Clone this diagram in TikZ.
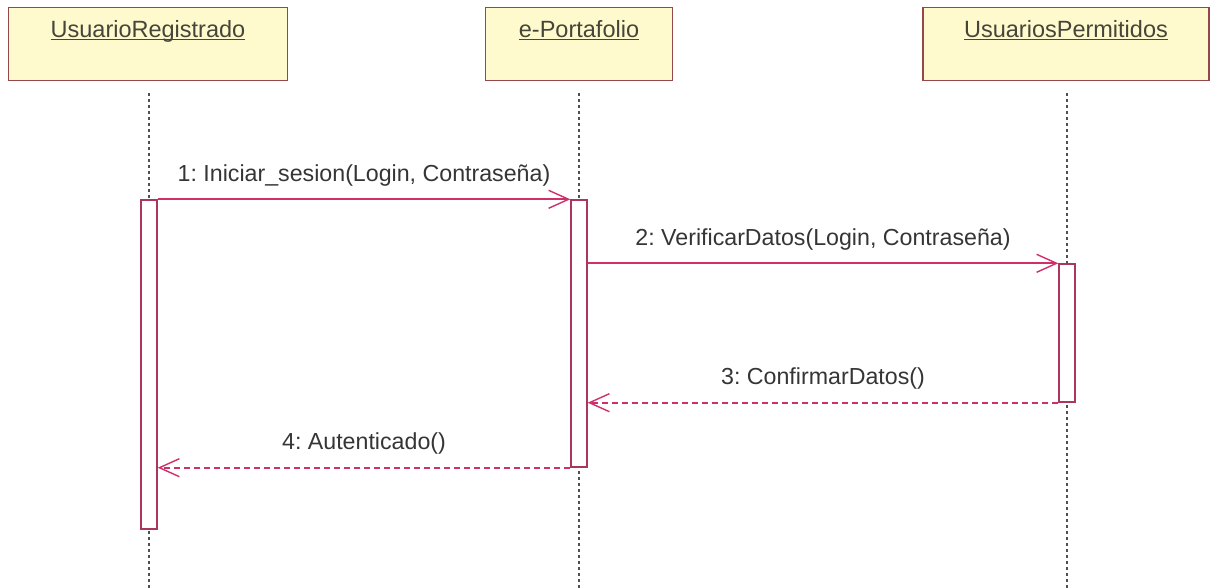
\documentclass[tikz,border=0pt]{standalone}
\usepackage{fontspec}
\setmainfont{Liberation Sans}
\usetikzlibrary{arrows.meta}
\frenchspacing
\definecolor{boxfill}{HTML}{FFFACD}
\definecolor{boxline}{HTML}{94484C}
\definecolor{hdrtext}{HTML}{45453A}
\definecolor{msgline}{HTML}{D0306A}
\definecolor{barline}{HTML}{A8365E}
\definecolor{lbltext}{HTML}{353535}
\definecolor{lifecol}{HTML}{505050}
\newcommand\ulinetext[1]{\setbox0=\hbox{#1}\rlap{\rule[-3pt]{\wd0}{1.1pt}}\box0}
\begin{document}
\begin{tikzpicture}[x=1pt,y=-1pt,
  actorbox/.style={draw=boxline, line width=1.3pt, fill=boxfill, rectangle,
    minimum height=73pt, inner sep=0pt, text=hdrtext,
    font=\fontsize{23.5}{28}\selectfont, text height=17pt, text depth=30pt},
  lifeline/.style={draw=lifecol, line width=1.3pt, dash pattern=on 3pt off 3pt},
  actbar/.style={draw=barline, line width=1.4pt, fill=white, rectangle,
    minimum width=16pt, inner sep=0pt},
  msgcall/.style={draw=msgline, line width=2pt,
    -{Straight Barb[length=20pt,width=18pt,line width=1.4pt]}},
  msgret/.style={draw=msgline, line width=1.8pt, dash pattern=on 6pt off 4pt,
    -{Straight Barb[length=20pt,width=18pt,line width=1.4pt]}},
  msglbl/.style={midway, anchor=base, yshift=18pt, text=lbltext,
    font=\fontsize{23.2}{28}\selectfont, inner sep=0pt}]
\useasboundingbox (0,0) rectangle (1210,588);

% actors
\node[actorbox, minimum width=279pt] (ur) at (148,44) {\ulinetext{UsuarioRegistrado}};
\node[actorbox, minimum width=187pt] (ep) at (579,44) {\ulinetext{e-Portafolio}};
\node[actorbox, minimum width=286pt] (up) at (1066,44) {\ulinetext{UsuariosPermitidos}};

% lifeline end points
\coordinate (urtop) at (149,93);
\coordinate (urend) at (149,588);
\coordinate (eptop) at (579,93);
\coordinate (epend) at (579,588);
\coordinate (uptop) at (1067,93);
\coordinate (upend) at (1067,588);
\draw[lifeline] (urtop) -- (urend);
\draw[lifeline] (eptop) -- (epend);
\draw[lifeline] (uptop) -- (upend);

% activation bars
\node[actbar, minimum height=329pt] (b1) at (149,364.5) {};
\node[actbar, minimum height=267pt] (b2) at (579,333.5) {};
\node[actbar, minimum height=138pt] (b3) at (1067,333) {};

% messages
\draw[msgcall] (b1.north east) -- (b2.north west)
  node[msglbl] (m1) {1: Iniciar\_sesion(Login, Contraseña)};
\draw[msgcall] (b2.east |- b3.north) -- (b3.north west)
  node[msglbl] (m2) {2: VerificarDatos(Login, Contraseña)};
\draw[msgret] (b3.south west) -- (b2.east |- b3.south)
  node[msglbl] (m3) {3: ConfirmarDatos()};
\draw[msgret] (b2.south west) -- (b1.east |- b2.south)
  node[msglbl] (m4) {4: Autenticado()};
\end{tikzpicture}
\end{document}
